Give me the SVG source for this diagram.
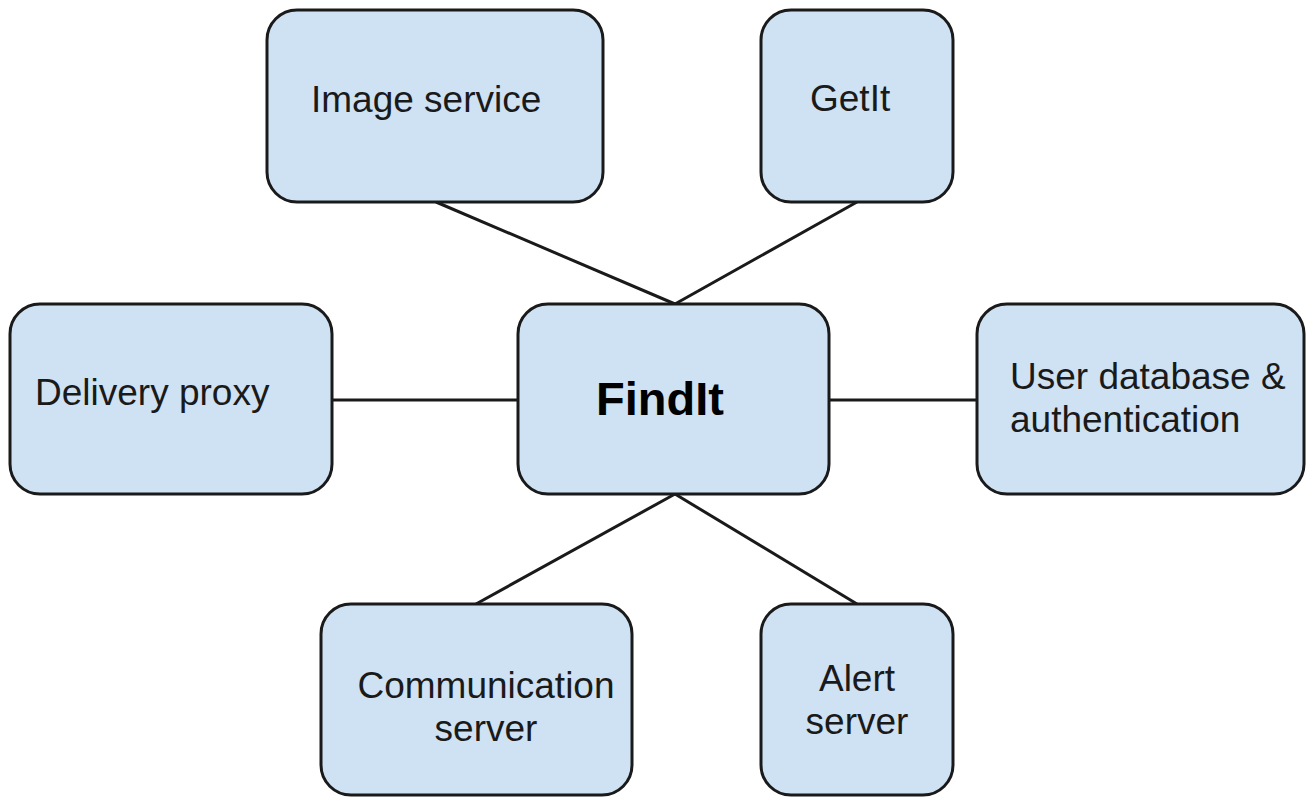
<svg xmlns="http://www.w3.org/2000/svg" width="1306" height="798" viewBox="0 0 1306 798">
<style>
.box{fill:#cfe2f3;stroke:#1a1a1a;stroke-width:3}
.lbl{font-family:"Liberation Sans",Arial,sans-serif;font-size:37px;fill:#1a1a1a}
.bold{font-weight:bold;font-size:47px;fill:#000}
.conn line{stroke:#1a1a1a;stroke-width:3}
</style>
<rect width="1306" height="798" fill="#ffffff"/>
<g class="conn" id="connectors">
<line x1="436" y1="202" x2="675" y2="304"/>
<line x1="857" y1="202" x2="675" y2="304"/>
<line x1="332" y1="400" x2="518" y2="400"/>
<line x1="829" y1="400" x2="977" y2="400"/>
<line x1="675" y1="494" x2="476" y2="604"/>
<line x1="675" y1="494" x2="857" y2="604"/>
</g>
<g id="image-service">
<rect class="box" x="267" y="10" width="336" height="192" rx="30"/>
<text class="lbl" x="311" y="112">Image service</text>
</g>
<g id="getit">
<rect class="box" x="761" y="10" width="192" height="192" rx="30"/>
<text class="lbl" x="810" y="111">GetIt</text>
</g>
<g id="delivery-proxy">
<rect class="box" x="10" y="304" width="322" height="190" rx="30"/>
<text class="lbl" x="35" y="405">Delivery proxy</text>
</g>
<g id="findit">
<rect class="box" x="518" y="304" width="311" height="190" rx="30"/>
<text class="lbl bold" x="596" y="415">FindIt</text>
</g>
<g id="user-database">
<rect class="box" x="977" y="304" width="327" height="190" rx="30"/>
<text class="lbl" x="1010" y="389">User database &amp;</text>
<text class="lbl" x="1010" y="432">authentication</text>
</g>
<g id="communication-server">
<rect class="box" x="321" y="604" width="311" height="191" rx="30"/>
<text class="lbl" x="486" y="698" text-anchor="middle">Communication</text>
<text class="lbl" x="486" y="741" text-anchor="middle">server</text>
</g>
<g id="alert-server">
<rect class="box" x="761" y="604" width="192" height="191" rx="30"/>
<text class="lbl" x="857" y="691" text-anchor="middle">Alert</text>
<text class="lbl" x="857" y="734" text-anchor="middle">server</text>
</g>
</svg>
